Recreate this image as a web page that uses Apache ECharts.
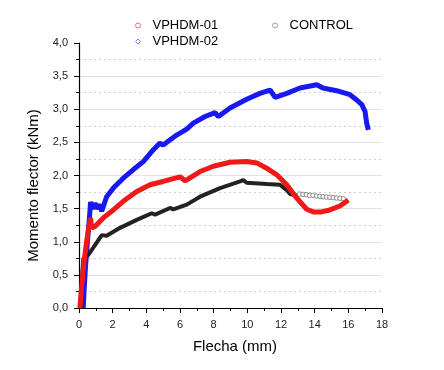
<!DOCTYPE html>
<html>
<head>
<meta charset="utf-8">
<script src="https://cdn.jsdelivr.net/npm/echarts@6/dist/echarts.min.js"></script>
<style>html,body{margin:0;padding:0;background:#fff}#c{width:444px;height:370px}</style>
</head>
<body>
<div id="c"></div>
<script>
// Data: [Flecha (mm), Momento flector (kNm)]
const vphdm01 = [
  [0.05,0.0],[0.15,0.3],[0.3,0.7],[0.45,1.0],[0.6,1.25],[0.69,1.36],[0.75,1.21],[0.95,1.23],
  [1.44,1.36],[2.04,1.48],[2.63,1.61],[3.43,1.76],[4.22,1.86],[5.0,1.91],[6.0,1.98],[6.3,1.92],
  [6.5,1.95],[7.19,2.06],[7.98,2.14],[8.97,2.2],[9.96,2.21],[10.56,2.19],[11.15,2.11],[11.75,2.01],
  [12.34,1.86],[12.93,1.66],[13.53,1.49],[13.92,1.45],[14.4,1.45],[14.9,1.48],[15.5,1.54],[16.0,1.63]
];
const vphdm02 = [
  [0.25,0.0],[0.3,0.25],[0.38,0.6],[0.5,1.0],[0.6,1.3],[0.69,1.6],[0.8,1.5],[0.95,1.58],
  [1.1,1.5],[1.25,1.56],[1.35,1.46],[1.64,1.68],[2.04,1.81],[2.63,1.96],[3.23,2.09],[3.82,2.21],
  [4.42,2.39],[4.81,2.49],[5.0,2.46],[5.8,2.61],[6.4,2.7],[6.79,2.79],[7.49,2.89],[8.08,2.95],
  [8.28,2.89],[8.97,3.02],[9.96,3.15],[10.75,3.24],[11.35,3.29],[11.65,3.18],[12.34,3.24],
  [13.13,3.32],[14.12,3.37],[14.5,3.32],[15.3,3.28],[16.1,3.22],[16.5,3.14],[16.8,3.07],
  [16.99,2.97],[17.09,2.79],[17.19,2.69]
];
const control = [
  [0.1,0.0],[0.15,0.3],[0.2,0.55],[0.26,0.75],[0.55,0.8],[0.95,0.95],[1.35,1.1],[1.64,1.09],
  [2.44,1.21],[3.43,1.33],[4.32,1.43],[4.52,1.41],[5.41,1.51],[5.6,1.49],[6.4,1.56],[7.19,1.68],
  [8.38,1.81],[9.57,1.91],[9.76,1.93],[9.96,1.89],[11.15,1.87],[11.94,1.86],[12.34,1.78],
  [12.54,1.72],[12.93,1.7]
];
const controlTail = [
  [13.1,1.72],[13.3,1.715],[13.5,1.71],[13.7,1.70],[13.9,1.70],[14.1,1.69],[14.3,1.685],
  [14.5,1.68],[14.7,1.675],[14.9,1.67],[15.1,1.665],[15.3,1.66],[15.5,1.655],[15.7,1.65]
];
const seriesNames = ['VPHDM-01','VPHDM-02','CONTROL'];
const xAxisName = 'Flecha (mm)';
const yAxisName = 'Momento flector (kNm)';

const FONT = '"Liberation Sans", Arial, sans-serif';
const chart = echarts.init(document.getElementById('c'), null, {renderer:'canvas'});
const fmt = v => v.toFixed(1).replace('.', ',');
const legendBase = {
  orient:'horizontal', itemWidth:5, itemHeight:5, selectedMode:false,
  textStyle:{fontFamily:FONT, fontSize:13, color:'#000', padding:[0,0,0,7]}
};
chart.setOption({
  animation:false,
  backgroundColor:'#fff',
  grid:{left:79, right:62, top:43, bottom:62},
  legend:[
    Object.assign({}, legendBase, {left:130, top:14, data:[{name:seriesNames[0], icon:'circle', itemStyle:{color:'#fff', borderColor:'#f07070', borderWidth:1}}]}),
    Object.assign({}, legendBase, {left:267, top:14, data:[{name:seriesNames[2], icon:'circle', itemStyle:{color:'#fff', borderColor:'#a0a0a0', borderWidth:1}}]}),
    Object.assign({}, legendBase, {left:130, top:30, data:[{name:seriesNames[1], icon:'diamond', itemStyle:{color:'#fff', borderColor:'#8080f0', borderWidth:1}}]})
  ],
  xAxis:{
    type:'value', min:0, max:18, interval:2,
    name:xAxisName, nameLocation:'middle', nameGap:31,
    nameTextStyle:{fontFamily:FONT, fontSize:15, color:'#000', padding:[0,0,0,9]},
    axisLine:{show:true, onZero:false, lineStyle:{color:'#000', width:1.2}},
    axisTick:{show:true, length:5, lineStyle:{color:'#000'}},
    minorTick:{show:true, splitNumber:2, length:3, lineStyle:{color:'#000'}},
    axisLabel:{fontFamily:FONT, fontSize:11, color:'#222', margin:11},
    splitLine:{show:false}
  },
  yAxis:{
    type:'value', min:0, max:4, interval:0.5,
    name:yAxisName, nameLocation:'middle', nameGap:38, nameRotate:90,
    nameTextStyle:{fontFamily:FONT, fontSize:15, color:'#000', padding:[0,20,0,0]},
    axisLine:{show:true, lineStyle:{color:'#000', width:1.2}},
    axisTick:{show:true, length:5, lineStyle:{color:'#000'}},
    minorTick:{show:true, splitNumber:2, length:3, lineStyle:{color:'#000'}},
    axisLabel:{fontFamily:FONT, fontSize:11, color:'#222', margin:11, formatter:fmt},
    splitLine:{show:true, showMinLine:false, showMaxLine:false, lineStyle:{color:'#e2e2e2', width:1}},
    minorSplitLine:{show:true, lineStyle:{color:'#cfcfcf', width:1, type:[2,3]}}
  },
  series:[
    {name:seriesNames[1], type:'line', data:vphdm02, showSymbol:false, symbol:'none',
     lineStyle:{color:'#1818f0', width:5}, itemStyle:{color:'#1818f0'}, z:3},
    {name:seriesNames[2], type:'line', data:control, showSymbol:false, symbol:'none',
     lineStyle:{color:'#222', width:4}, itemStyle:{color:'#222'}, z:4},
    {name:seriesNames[2], type:'scatter', data:controlTail, symbol:'circle', symbolSize:4.5,
     itemStyle:{color:'#fff', borderColor:'#777', borderWidth:1}, z:4},
    {name:seriesNames[0], type:'line', data:vphdm01, showSymbol:false, symbol:'none',
     lineStyle:{color:'#f01818', width:5}, itemStyle:{color:'#f01818'}, z:5}
  ]
});
</script>
</body>
</html>
